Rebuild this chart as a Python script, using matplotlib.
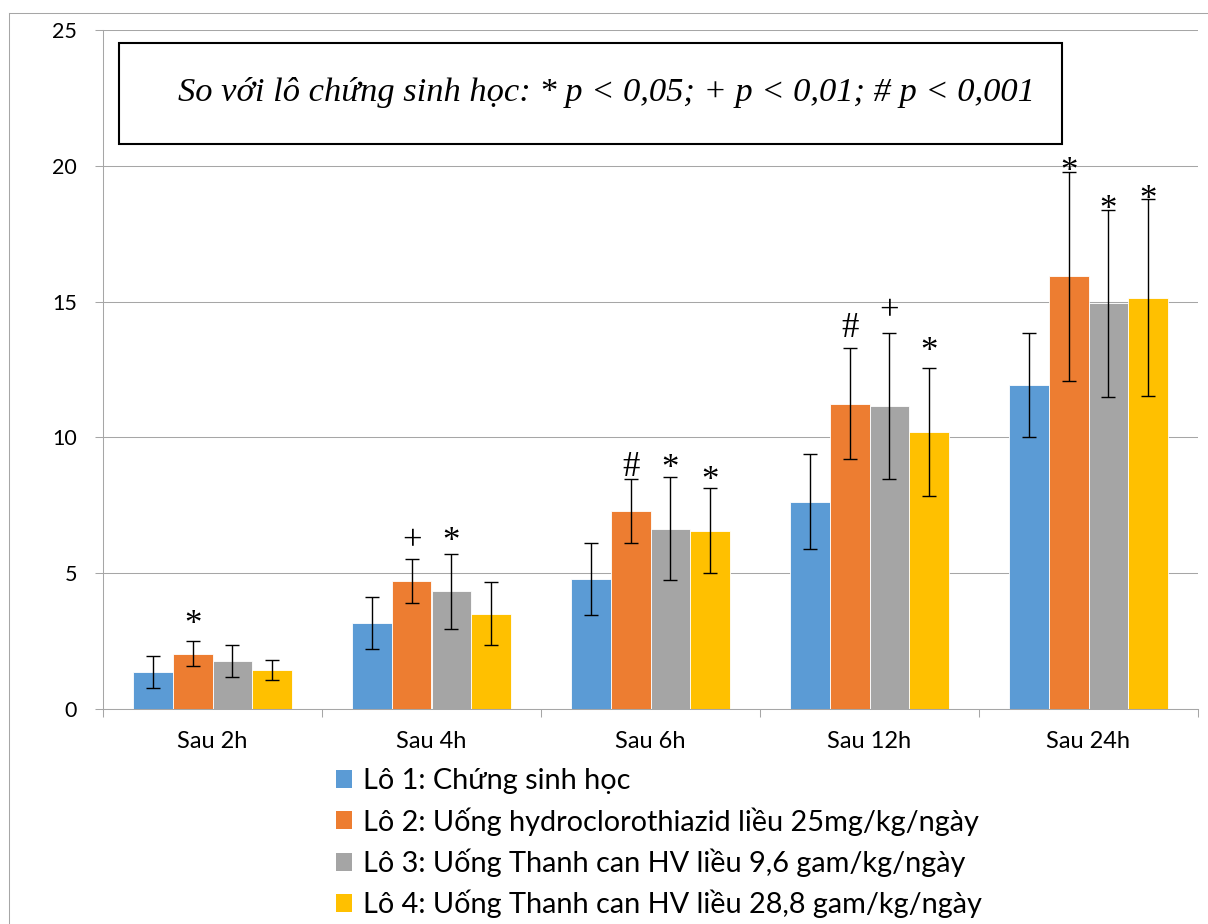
import matplotlib
matplotlib.use('Agg')
import matplotlib.pyplot as plt
from matplotlib.patches import Patch, Rectangle
from matplotlib.lines import Line2D
import numpy as np

plt.rcParams['font.family'] = ['Lato', 'Noto Sans', 'DejaVu Sans']

# data
groups = ['Sau 2h', 'Sau 4h', 'Sau 6h', 'Sau 12h', 'Sau 24h']
labels = ['Lô 1: Chứng sinh học',
          'Lô 2: Uống hydroclorothiazid liều 25mg/kg/ngày',
          'Lô 3: Uống Thanh can HV liều 9,6 gam/kg/ngày',
          'Lô 4: Uống Thanh can HV liều 28,8 gam/kg/ngày']
lo1 = [1.37, 3.17, 4.79, 7.63, 11.93]
lo2 = [2.04, 4.71, 7.28, 11.24, 15.94]
lo3 = [1.75, 4.34, 6.64, 11.15, 14.94]
lo4 = [1.45, 3.51, 6.56, 10.20, 15.15]
sd1 = [0.58, 0.97, 1.33, 1.75, 1.92]
sd2 = [0.47, 0.80, 1.18, 2.05, 3.85]
sd3 = [0.59, 1.38, 1.90, 2.68, 3.45]
sd4 = [0.37, 1.17, 1.57, 2.36, 3.61]
sig1 = ['', '', '', '', '']
sig2 = ['*', '+', '#', '#', '*']
sig3 = ['', '*', '*', '+', '*']
sig4 = ['', '', '*', '*', '*']
note = 'So với lô chứng sinh học: * p < 0,05; + p < 0,01; # p < 0,001'

colors = ['#5B9BD5', '#ED7D31', '#A5A5A5', '#FFC000']
grid_c = '#A6A6A6'

W, H = 1208, 924
def fx(x): return x / W
def fy(y): return 1 - y / H
PT = 0.72  # points per pixel at dpi 100

fig = plt.figure(figsize=(W / 100, H / 100), dpi=100)
ax = fig.add_axes([fx(103), fy(709), (1198 - 103) / W, (709 - 30) / H])

means = [lo1, lo2, lo3, lo4]
sds = [sd1, sd2, sd3, sd4]
sigs = [sig1, sig2, sig3, sig4]
x = np.arange(len(groups))
w = 0.1815
for i in range(4):
    ax.bar(x + (i - 1.5) * w, means[i], w, color=colors[i], edgecolor='white',
           linewidth=0.6, yerr=sds[i], zorder=2,
           error_kw=dict(ecolor='black', elinewidth=1.0, capsize=4.7, capthick=1.0))

# significance marks above the error bars
gap_px = [23, 19, 15, 23, 7]
glyph_mid = {'*': 0.47, '+': 0.27, '#': 0.34}
mark_size = 25
for i in range(4):
    for j in range(len(groups)):
        s = sigs[i][j]
        if not s:
            continue
        top = means[i][j] + sds[i][j]
        dy = gap_px[j] * PT - glyph_mid[s] * mark_size
        ax.annotate(s, (x[j] + (i - 1.5) * w, top), xytext=(0, dy),
                    textcoords='offset points', ha='center', va='baseline',
                    fontsize=mark_size, family='Liberation Serif', zorder=5)

ax.set_xlim(-0.5, len(groups) - 0.5)
ax.set_ylim(0, 25)
ax.set_yticks(range(0, 26, 5))
ax.set_xticks(x)
ax.set_xticklabels(groups)
ax.set_xticks(np.arange(-0.5, len(groups)), minor=True)
ax.tick_params(axis='x', which='major', length=0, pad=16, labelsize=17)
ax.tick_params(axis='x', which='minor', length=8 * PT, color=grid_c, width=0.75)
ax.tick_params(axis='y', length=8 * PT, color=grid_c, width=0.75, pad=13, labelsize=15.5)
ax.yaxis.grid(True, color=grid_c, linewidth=0.75)
ax.set_axisbelow(True)
for sp in ['top', 'right']:
    ax.spines[sp].set_visible(False)
for sp in ['left', 'bottom']:
    ax.spines[sp].set_color(grid_c)
    ax.spines[sp].set_linewidth(0.75)

# text box with the p-value note
fig.add_artist(Rectangle((fx(119), fy(144)), (1062 - 119) / W, (144 - 43) / H,
                         transform=fig.transFigure, facecolor='white',
                         edgecolor='black', linewidth=1.5, zorder=3))
fig.text(fx(606), fy(92), note, ha='center', va='center', fontsize=24.8,
         family='Liberation Serif', style='italic', zorder=4)

# chart area border
fig.add_artist(Line2D([fx(9), fx(9)], [fy(13), 0], color=grid_c, linewidth=0.75))
fig.add_artist(Line2D([fx(9), 1], [fy(13), fy(13)], color=grid_c, linewidth=0.75))

handles = [Patch(facecolor=c) for c in colors]
fig.legend(handles, labels, loc='upper left', bbox_to_anchor=(fx(336), fy(768)),
           frameon=False, fontsize=20.8, handlelength=0.57, handleheight=0.57,
           handletextpad=0.36, labelspacing=0.45, borderpad=0, borderaxespad=0)

plt.savefig('out.png', dpi=100)
